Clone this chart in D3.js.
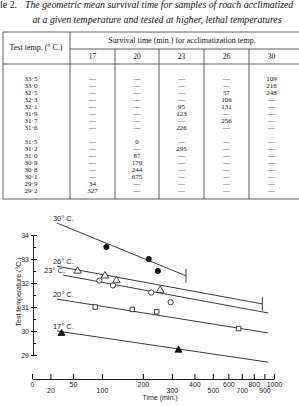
<!DOCTYPE html>
<html>
<head>
<meta charset="utf-8">
<script src="https://cdn.jsdelivr.net/npm/d3@7"></script>
<style>
  body { margin: 0; background: #fff; }
  svg { display: block; }
  .tbl { font-family: "Liberation Serif", "DejaVu Serif", serif; fill: #111; }
  .chart text { font-family: "Liberation Sans", Arial, sans-serif; fill: #1a1a1a; }
</style>
</head>
<body>
<div id="chart"></div>
<script>
// ---- table data ----
var testTemps = [33.5, 33.0, 32.5, 32.3, 32.1, 31.9, 31.7, 31.6, 31.5, 31.2, 31.0, 30.9, 30.8, 30.1, 29.9, 29.2];
var acclimTemps = [17, 20, 23, 26, 30];

// survival time (min.) for each acclimatization temp, one value per test temp, null = not tested
var surv17 = [null, null, null, null, null, null, null, null, null, null, null, null, null, null, 34, 327];
var surv20 = [null, null, null, null, null, null, null, null, 0, null, 87, 170, 244, 675, null, null];
var surv23 = [null, null, null, null, 95, 123, null, 226, null, 295, null, null, null, null, null, null];
var surv26 = [null, null, 57, 106, 131, null, 256, null, null, null, null, null, null, null, null, null];
var surv30 = [109, 218, 248, null, null, null, null, null, null, null, null, null, null, null, null, null];
var survCols = [surv17, surv20, surv23, surv26, surv30];

// ---- fitted lines ----
var fitAcclim   = [30, 26, 23, 20, 17];
var fitFromTime = [28, 28, 36, 28, 28];
var fitFromTemp = [34.5, 32.7, 32.33, 31.33, 30.0];
var fitToTime   = [360, 880, 940, 940, 940];
var fitToTemp   = [32.3, 31.13, 30.75, 29.92, 28.7];
var fitEndBar   = [true, true, false, false, false];

// ---- axes ----
var xTicks = [0, 20, 50, 100, 200, 300, 400, 500, 600, 700, 800, 900, 1000];
var xTicksLow = [20, 100, 300, 500, 700, 900];
var yTicks = [29, 30, 31, 32, 33, 34];
var yMinor = [29.5, 30.5, 31.5, 32.5, 33.5];

var W = 299, H = 406;
var svg = d3.select("#chart").append("svg")
    .attr("width", W)
    .attr("height", H);

// ================= table =================
var tbl = svg.append("g").attr("class", "tbl");
var colEdges = [70, 115, 159, 204, 249, 294];
var tLeft = 3, tRight = 299, tTop = 32, tHeadBot = 64, tBot = 199;

function rowY(i) { return 78 + (i >= 8 ? i + 1 : i) * 7.05; }
function fmt(v) { return v.toFixed(1).replace(".", "\u00b7"); }

// title
tbl.append("text").attr("x", 17).attr("y", 8).attr("font-size", 9.8)
    .attr("text-anchor", "end").text("Table 2.");
tbl.append("text").attr("x", 25).attr("y", 8).attr("font-size", 9.8)
    .attr("font-style", "italic")
    .text("The geometric mean survival time for samples of roach acclimatized");
tbl.append("text").attr("x", 157).attr("y", 23).attr("font-size", 9.8)
    .attr("font-style", "italic").attr("text-anchor", "middle")
    .text("at a given temperature and tested at higher, lethal temperatures");

// rules
var rules = [
  [tLeft, tTop, tRight, tTop],
  [colEdges[0], 49, tRight, 49],
  [tLeft, tHeadBot, tRight, tHeadBot],
  [tLeft, tBot, tRight, tBot],
  [tLeft, tTop, tLeft, tBot]
];
colEdges.slice(0, 5).forEach(function(x, i) {
  rules.push([x, i === 0 ? tTop : 49, x, tBot]);
});
tbl.selectAll("line.rule").data(rules).enter().append("line")
    .attr("class", "rule")
    .attr("x1", function(d) { return d[0]; })
    .attr("y1", function(d) { return d[1]; })
    .attr("x2", function(d) { return d[2]; })
    .attr("y2", function(d) { return d[3]; })
    .attr("stroke", "#333")
    .attr("stroke-width", 0.8);

// header
tbl.append("text").attr("x", 36).attr("y", 50).attr("font-size", 8)
    .attr("text-anchor", "middle").text("Test temp. (\u00b0 C.)");
tbl.append("text").attr("x", 182).attr("y", 43).attr("font-size", 8)
    .attr("text-anchor", "middle").text("Survival time (min.) for acclimatization temp.");
tbl.selectAll("text.colhead").data(acclimTemps).enter().append("text")
    .attr("class", "colhead")
    .attr("x", function(d, i) { return (colEdges[i] + colEdges[i + 1]) / 2; })
    .attr("y", 59)
    .attr("font-size", 7.5)
    .attr("text-anchor", "middle")
    .text(function(d) { return d; });

// row labels
tbl.selectAll("text.rowlab").data(testTemps).enter().append("text")
    .attr("class", "rowlab")
    .attr("x", 31)
    .attr("y", function(d, i) { return rowY(i) + 2.5; })
    .attr("font-size", 7)
    .attr("text-anchor", "middle")
    .text(fmt);

// cells
var cells = [];
survCols.forEach(function(col, c) {
  col.forEach(function(v, r) { cells.push({c: c, r: r, v: v}); });
});
tbl.selectAll("text.cell").data(cells).enter().append("text")
    .attr("class", "cell")
    .attr("x", function(d) { return (colEdges[d.c] + colEdges[d.c + 1]) / 2; })
    .attr("y", function(d) { return rowY(d.r) + 2.5; })
    .attr("font-size", 7)
    .attr("text-anchor", "middle")
    .text(function(d) { return d.v === null ? "\u2014" : d.v; });

// ================= chart =================
var g = svg.append("g").attr("class", "chart");

// time axis is log(t + 100)
var xLog = d3.scaleLog().domain([100, 1100]).range([32, 274]);
function x(t) { return xLog(t + 100); }
var y = d3.scaleLinear().domain([29, 34]).range([355, 235]);

// y axis
var yAxis = g.append("g")
    .attr("transform", "translate(33,0)")
    .call(d3.axisLeft(y).tickValues(yTicks).tickFormat(d3.format("d"))
        .tickSizeInner(-4).tickSizeOuter(0).tickPadding(4));
yAxis.selectAll(".tick line").attr("x1", -2);
yAxis.selectAll("text").attr("font-size", 7).attr("font-family", null);
yAxis.select(".domain").attr("stroke", "#222");
g.append("g")
    .attr("transform", "translate(33,0)")
    .call(d3.axisLeft(y).tickValues(yMinor).tickSizeInner(-3).tickSizeOuter(0).tickFormat(""))
    .select(".domain").remove();

g.append("text")
    .attr("transform", "translate(21,292) rotate(-90)")
    .attr("text-anchor", "middle")
    .attr("font-size", 7)
    .text("Test temperature (\u00b0C.)");

// x axis
var xAxis = g.append("g")
    .attr("transform", "translate(0,379)")
    .call(d3.axisBottom(xLog)
        .tickValues(xTicks.map(function(t) { return t + 100; }))
        .tickFormat(function(d) { return Math.round(d - 100); })
        .tickSizeInner(-5).tickSizeOuter(0));
xAxis.selectAll("text")
    .attr("font-size", 7)
    .attr("font-family", null)
    .attr("dy", 0)
    .attr("y", function(d) { return xTicksLow.indexOf(Math.round(d - 100)) >= 0 ? 13.5 : 7.5; });
xAxis.select(".domain").attr("stroke", "#222");

g.append("text")
    .attr("x", 160).attr("y", 400)
    .attr("text-anchor", "middle")
    .attr("font-size", 7)
    .text("Time (min.)");

// fitted lines
var fits = fitAcclim.map(function(a, i) {
  return {acc: a, t0: fitFromTime[i], y0: fitFromTemp[i], t1: fitToTime[i], y1: fitToTemp[i], bar: fitEndBar[i]};
});
g.selectAll("line.fit").data(fits).enter().append("line")
    .attr("class", "fit")
    .attr("x1", function(d) { return x(d.t0); })
    .attr("y1", function(d) { return y(d.y0); })
    .attr("x2", function(d) { return x(d.t1); })
    .attr("y2", function(d) { return y(d.y1); })
    .attr("stroke", "#222")
    .attr("stroke-width", 0.9);
g.selectAll("line.bar").data(fits.filter(function(d) { return d.bar; })).enter().append("line")
    .attr("class", "bar")
    .attr("x1", function(d) { return x(d.t1); })
    .attr("x2", function(d) { return x(d.t1); })
    .attr("y1", function(d) { return y(d.y1) - 7; })
    .attr("y2", function(d) { return y(d.y1) + 7; })
    .attr("stroke", "#222")
    .attr("stroke-width", 0.9);

// series labels
g.selectAll("text.acc").data(fits).enter().append("text")
    .attr("class", "acc")
    .attr("x", function(d) { return d.acc === 23 ? x(d.t0) + 2 : x(d.t0) - 4; })
    .attr("y", function(d) { return y(d.y0) - 2; })
    .attr("text-anchor", function(d) { return d.acc === 23 ? "end" : "start"; })
    .attr("font-size", 7.5)
    .text(function(d) { return d.acc + "\u00b0 C."; });

// points from the table
var markers = {
  17: {type: d3.symbolTriangle, size: 22, fill: "#111"},
  20: {type: d3.symbolSquare, size: 20, fill: "#fff"},
  23: {type: d3.symbolCircle, size: 22, fill: "#fff"},
  26: {type: d3.symbolTriangle, size: 24, fill: "#fff"},
  30: {type: d3.symbolCircle, size: 22, fill: "#111"}
};
var pts = [];
survCols.forEach(function(col, c) {
  col.forEach(function(v, r) {
    if (v) pts.push({acc: acclimTemps[c], t: v, temp: testTemps[r]});
  });
});
g.selectAll("path.pt").data(pts).enter().append("path")
    .attr("class", "pt")
    .attr("transform", function(d) { return "translate(" + x(d.t) + "," + y(d.temp) + ")"; })
    .attr("d", function(d) { return d3.symbol().type(markers[d.acc].type).size(markers[d.acc].size)(); })
    .attr("fill", function(d) { return markers[d.acc].fill; })
    .attr("stroke", "#111")
    .attr("stroke-width", 0.8);
</script>
</body>
</html>
